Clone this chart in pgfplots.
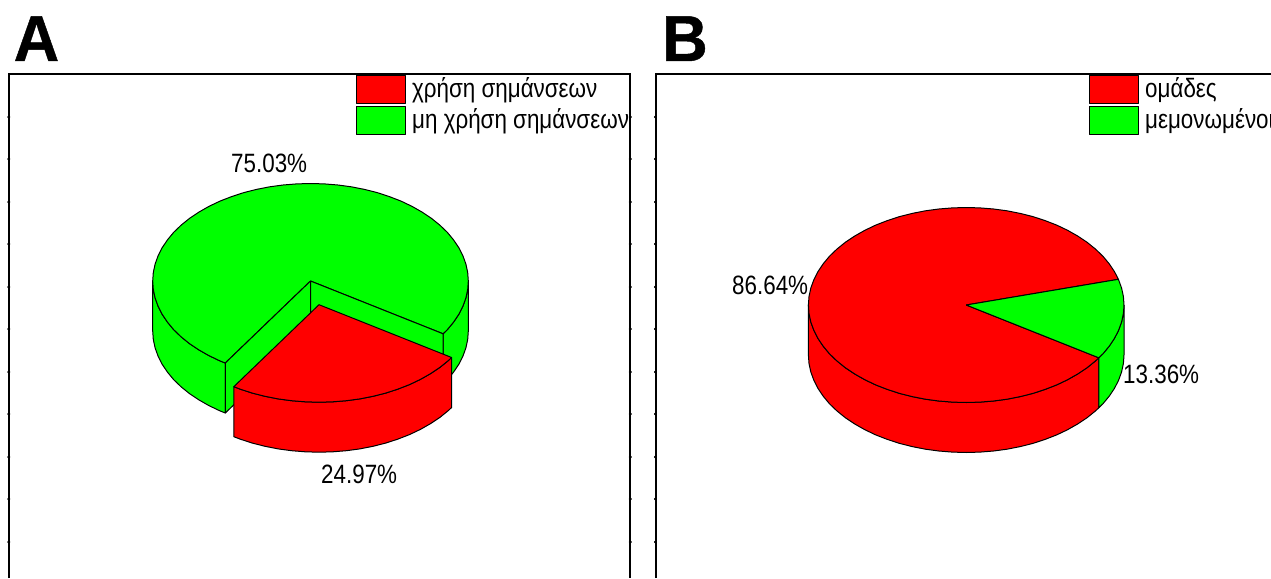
\documentclass[border=0pt]{standalone}
\usepackage{pgfplots}
\usepackage{pgfplotstable}
\usepackage{fontspec}
\pgfplotsset{compat=1.18}
\setmainfont[FakeStretch=0.845]{Liberation Sans}
\newfontfamily\panelfont[FakeBold=0.7,FakeStretch=0.97]{Liberation Sans Bold}

% Rim outlines, given as offsets from the apex of each slice (y runs downward).
% Slice A1, 24.97 %: top face
\pgfplotstableread{
dx dy
0 0
132.6 52.8
129.3 55.9
120.9 62.7
111.6 68.9
101.4 74.7
90.5 79.9
78.9 84.4
66.7 88.4
54.0 91.6
40.8 94.2
27.4 96.0
13.8 97.1
0 97.5
-13.8 97.1
-27.4 96.0
-40.8 94.2
-54.0 91.6
-66.7 88.4
-78.9 84.4
-85.2 82.0
0 0
}\topRedA
% Slice A1: outer wall
\pgfplotstableread{
dx dy
132.6 52.8
129.3 55.9
120.9 62.7
111.6 68.9
101.4 74.7
90.5 79.9
78.9 84.4
66.7 88.4
54.0 91.6
40.8 94.2
27.4 96.0
13.8 97.1
0 97.5
-13.8 97.1
-27.4 96.0
-40.8 94.2
-54.0 91.6
-66.7 88.4
-78.9 84.4
-85.2 82.0
-85.2 132.0
-78.9 134.4
-66.7 138.4
-54.0 141.6
-40.8 144.2
-27.4 146.0
-13.8 147.1
0 147.5
13.8 147.1
27.4 146.0
40.8 144.2
54.0 141.6
66.7 138.4
78.9 134.4
90.5 129.9
101.4 124.7
111.6 118.9
120.9 112.7
129.3 105.9
132.6 102.8
132.6 52.8
}\wallRedA
% Slice A2, 75.03 %: top face
\pgfplotstableread{
dx dy
0 0
-85.2 82.0
-90.5 79.9
-101.4 74.7
-111.6 68.9
-120.9 62.7
-129.3 55.9
-136.7 48.8
-143.0 41.2
-148.3 33.3
-152.4 25.2
-155.4 16.9
-157.2 8.5
-157.8 0
-157.2 -8.5
-155.4 -16.9
-152.4 -25.2
-148.3 -33.3
-143.0 -41.2
-136.7 -48.8
-129.3 -55.9
-120.9 -62.7
-111.6 -68.9
-101.4 -74.7
-90.5 -79.9
-78.9 -84.4
-66.7 -88.4
-54.0 -91.6
-40.8 -94.2
-27.4 -96.0
-13.8 -97.1
0 -97.5
13.8 -97.1
27.4 -96.0
40.8 -94.2
54.0 -91.6
66.7 -88.4
78.9 -84.4
90.5 -79.9
101.4 -74.7
111.6 -68.9
120.9 -62.7
129.3 -55.9
136.7 -48.8
143.0 -41.2
148.3 -33.3
152.4 -25.2
155.4 -16.9
157.2 -8.5
157.8 0
157.2 8.5
155.4 16.9
152.4 25.2
148.3 33.3
143.0 41.2
136.7 48.8
132.6 52.8
0 0
}\topGreenA
% Slice A2: outer wall, left part
\pgfplotstableread{
dx dy
-85.2 82.0
-90.5 79.9
-101.4 74.7
-111.6 68.9
-120.9 62.7
-129.3 55.9
-136.7 48.8
-143.0 41.2
-148.3 33.3
-152.4 25.2
-155.4 16.9
-157.2 8.5
-157.8 0
-157.8 50
-157.2 58.5
-155.4 66.9
-152.4 75.2
-148.3 83.3
-143.0 91.2
-136.7 98.8
-129.3 105.9
-120.9 112.7
-111.6 118.9
-101.4 124.7
-90.5 129.9
-85.2 132.0
-85.2 82.0
}\wallLeft
% Outer wall on the right, from the horizontal to the slice edge
\pgfplotstableread{
dx dy
157.8 0
157.2 8.5
155.4 16.9
152.4 25.2
148.3 33.3
143.0 41.2
136.7 48.8
132.6 52.8
132.6 102.8
136.7 98.8
143.0 91.2
148.3 83.3
152.4 75.2
155.4 66.9
157.2 58.5
157.8 50
157.8 0
}\wallRight
% Slice B1, 86.64 %: outer wall
\pgfplotstableread{
dx dy
132.6 52.8
129.3 55.9
120.9 62.7
111.6 68.9
101.4 74.7
90.5 79.9
78.9 84.4
66.7 88.4
54.0 91.6
40.8 94.2
27.4 96.0
13.8 97.1
0 97.5
-13.8 97.1
-27.4 96.0
-40.8 94.2
-54.0 91.6
-66.7 88.4
-78.9 84.4
-90.5 79.9
-101.4 74.7
-111.6 68.9
-120.9 62.7
-129.3 55.9
-136.7 48.8
-143.0 41.2
-148.3 33.3
-152.4 25.2
-155.4 16.9
-157.2 8.5
-157.8 0
-157.8 50
-157.2 58.5
-155.4 66.9
-152.4 75.2
-148.3 83.3
-143.0 91.2
-136.7 98.8
-129.3 105.9
-120.9 112.7
-111.6 118.9
-101.4 124.7
-90.5 129.9
-78.9 134.4
-66.7 138.4
-54.0 141.6
-40.8 144.2
-27.4 146.0
-13.8 147.1
0 147.5
13.8 147.1
27.4 146.0
40.8 144.2
54.0 141.6
66.7 138.4
78.9 134.4
90.5 129.9
101.4 124.7
111.6 118.9
120.9 112.7
129.3 105.9
132.6 102.8
132.6 52.8
}\wallRedB
% Slice B1: top face
\pgfplotstableread{
dx dy
0 0
132.6 52.8
129.3 55.9
120.9 62.7
111.6 68.9
101.4 74.7
90.5 79.9
78.9 84.4
66.7 88.4
54.0 91.6
40.8 94.2
27.4 96.0
13.8 97.1
0 97.5
-13.8 97.1
-27.4 96.0
-40.8 94.2
-54.0 91.6
-66.7 88.4
-78.9 84.4
-90.5 79.9
-101.4 74.7
-111.6 68.9
-120.9 62.7
-129.3 55.9
-136.7 48.8
-143.0 41.2
-148.3 33.3
-152.4 25.2
-155.4 16.9
-157.2 8.5
-157.8 0
-157.2 -8.5
-155.4 -16.9
-152.4 -25.2
-148.3 -33.3
-143.0 -41.2
-136.7 -48.8
-129.3 -55.9
-120.9 -62.7
-111.6 -68.9
-101.4 -74.7
-90.5 -79.9
-78.9 -84.4
-66.7 -88.4
-54.0 -91.6
-40.8 -94.2
-27.4 -96.0
-13.8 -97.1
0 -97.5
13.8 -97.1
27.4 -96.0
40.8 -94.2
54.0 -91.6
66.7 -88.4
78.9 -84.4
90.5 -79.9
101.4 -74.7
111.6 -68.9
120.9 -62.7
129.3 -55.9
136.7 -48.8
143.0 -41.2
148.3 -33.3
152.2 -25.7
0 0
}\topRedB
% Slice B2, 13.36 %: top face
\pgfplotstableread{
dx dy
0 0
152.2 -25.7
155.4 -16.9
157.2 -8.5
157.8 0
157.2 8.5
155.4 16.9
152.4 25.2
148.3 33.3
143.0 41.2
136.7 48.8
132.6 52.8
0 0
}\topGreenB

\definecolor{slicered}{RGB}{255,0,0}
\definecolor{slicegreen}{RGB}{0,255,0}
\tikzset{
  face/.style={draw=black, fill=#1},
  lbl/.style={inner sep=0pt, font=\fontsize{26.5}{30}\selectfont, text=black, anchor=base west},
  panel/.style={inner sep=0pt, font=\panelfont\fontsize{65}{70}\selectfont, text=black, anchor=base west},
}

\begin{document}
\begin{tikzpicture}
\clip[use as bounding box] (0,0) rectangle (1271pt,578pt);
\begin{axis}[
  at={(0,0)}, anchor=south west,
  scale only axis, width=1271pt, height=578pt,
  xmin=0, xmax=1271, ymin=0, ymax=578, y dir=reverse,
  axis lines=none, clip=false,
  every axis plot/.append style={no markers, line width=1pt, line join=round, black},
]
% panel frames, open at the bottom
\addplot[line width=2pt, miter limit=10, line join=miter] coordinates {(8.8,578) (8.8,74) (630.3,74) (630.3,578)};
\addplot[line width=2pt, miter limit=10, line join=miter] coordinates {(655.5,578) (655.5,74) (1271,74)};
% small ticks along the frame edges
\addplot[only marks, mark=-, mark size=1.3pt, line width=0.5pt] coordinates {
 (8.8,117) (8.8,159) (8.8,202) (8.8,244) (8.8,287) (8.8,329) (8.8,372) (8.8,414) (8.8,457) (8.8,499) (8.8,542)
 (630.3,117) (630.3,159) (630.3,202) (630.3,244) (630.3,287) (630.3,329) (630.3,372) (630.3,414) (630.3,457) (630.3,499) (630.3,542)
 (655.5,117) (655.5,159) (655.5,202) (655.5,244) (655.5,287) (655.5,329) (655.5,372) (655.5,414) (655.5,457) (655.5,499) (655.5,542)};

% pie A: green slice
\addplot[face=slicegreen] table[x expr=\thisrow{dx}+310.5, y expr=\thisrow{dy}+281] {\wallLeft};
\addplot[face=slicegreen] table[x expr=\thisrow{dx}+310.5, y expr=\thisrow{dy}+281] {\wallRight};
\addplot[face=slicegreen] table[x expr=\thisrow{dx}+310.5, y expr=\thisrow{dy}+281] {\topGreenA};
\addplot[face=slicegreen] coordinates {(310.5,281) (225.3,363) (225.3,413) (310.5,331) (310.5,281)};
\addplot[face=slicegreen] coordinates {(310.5,281) (443.1,333.8) (443.1,383.8) (310.5,331) (310.5,281)};
% pie A: red slice, pulled out
\addplot[face=slicered] table[x expr=\thisrow{dx}+319, y expr=\thisrow{dy}+304.7] {\wallRedA};
\addplot[face=slicered] table[x expr=\thisrow{dx}+319, y expr=\thisrow{dy}+304.7] {\topRedA};

% pie B
\addplot[face=slicered] table[x expr=\thisrow{dx}+966.2, y expr=\thisrow{dy}+305] {\wallRedB};
\addplot[face=slicegreen] table[x expr=\thisrow{dx}+966.2, y expr=\thisrow{dy}+305] {\wallRight};
\addplot[face=slicered] table[x expr=\thisrow{dx}+966.2, y expr=\thisrow{dy}+305] {\topRedB};
\addplot[face=slicegreen] table[x expr=\thisrow{dx}+966.2, y expr=\thisrow{dy}+305] {\topGreenB};

% legend swatches
\addplot[face=slicered] coordinates {(356,75.7) (405.7,75.7) (405.7,103) (356,103) (356,75.7)};
\addplot[face=slicegreen] coordinates {(356,106.7) (405.7,106.7) (405.7,134.3) (356,134.3) (356,106.7)};
\addplot[face=slicered] coordinates {(1089,75.7) (1138.5,75.7) (1138.5,103) (1089,103) (1089,75.7)};
\addplot[face=slicegreen] coordinates {(1089,106.7) (1138.5,106.7) (1138.5,134.3) (1089,134.3) (1089,106.7)};

% panel letters
\node[panel] at (axis cs:13.5,61) {A};
\node[panel] at (axis cs:662,61) {B};

% legend text
\node[lbl] at (axis cs:412,97.5) {χρήση σημάνσεων};
\node[lbl] at (axis cs:412,128.5) {μη χρήση σημάνσεων};
\node[lbl] at (axis cs:1145,97.5) {ομάδες};
\node[lbl] at (axis cs:1145,128.5) {μεμονωμένοι};

% slice percentages
\node[lbl] at (axis cs:231,172.3) {75.03\%};
\node[lbl] at (axis cs:321,483.3) {24.97\%};
\node[lbl] at (axis cs:732,294.3) {86.64\%};
\node[lbl] at (axis cs:1123,383.3) {13.36\%};
\end{axis}
\end{tikzpicture}
\end{document}
